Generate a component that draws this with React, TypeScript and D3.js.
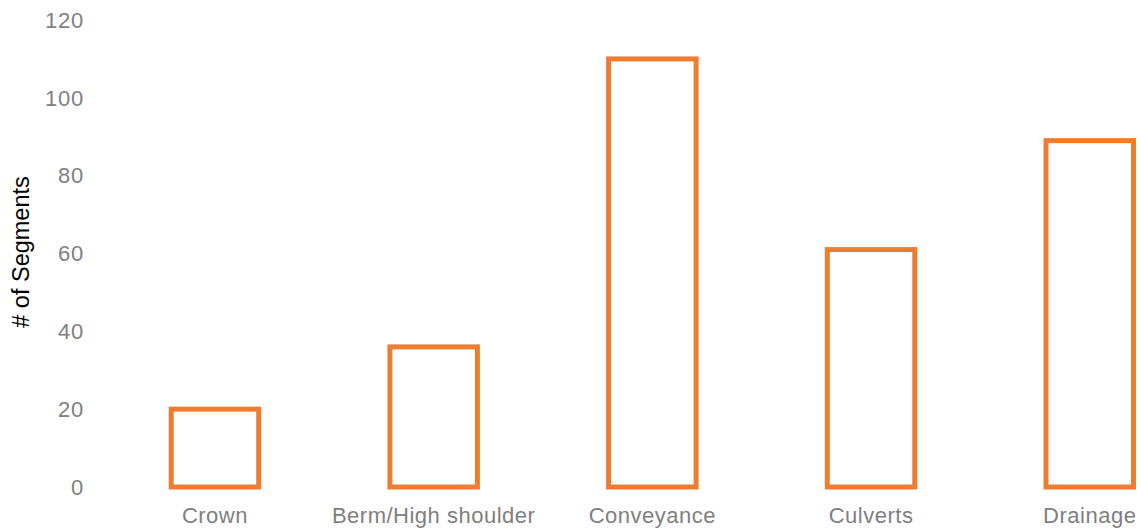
import React from "react";
import * as d3 from "d3";

const categories = ["Crown", "Berm/High shoulder", "Conveyance", "Culverts", "Drainage"];
const values = [20, 36, 110, 61, 89];
const yTicks = [0, 20, 40, 60, 80, 100, 120];

const W = 1141;
const H = 529;
const FONT = "'Liberation Sans', Arial, sans-serif";

export default function App() {
  const y = d3.scaleLinear().domain([0, 120]).range([487, 20]);
  const x = d3
    .scaleBand<string>()
    .domain(categories)
    .range([105.6, 105.6 + 218.7 * 5])
    .paddingInner(0.6)
    .paddingOuter(0.3);
  const bw = x.bandwidth();
  return (
    <svg width={W} height={H} style={{ position: "absolute", left: 0, top: 0, background: "#fff" }}>
      {yTicks.map((t) => (
        <text key={t} x={84} y={y(t)} dy="0.35em" textAnchor="end" fontFamily={FONT} fontSize={22} letterSpacing={0.8} fill="#808080">
          {t}
        </text>
      ))}
      <text
        transform={`translate(29,${252}) rotate(-90)`}
        textAnchor="middle"
        fontFamily={FONT}
        fontSize={23.5}
        fill="#000"
      >
        # of Segments
      </text>
      {categories.map((c, i) => {
        const cx = (x(c) as number) + bw / 2;
        return (
          <g key={c}>
            <rect
              x={x(c)}
              y={y(values[i])}
              width={bw}
              height={y(0) - y(values[i])}
              fill="#fff"
              stroke="#ED7D31"
              strokeWidth={5}
            />
            <text x={cx} y={523} textAnchor="middle" fontFamily={FONT} fontSize={22} letterSpacing={0.5} fill="#808080">
              {c}
            </text>
          </g>
        );
      })}
    </svg>
  );
}
